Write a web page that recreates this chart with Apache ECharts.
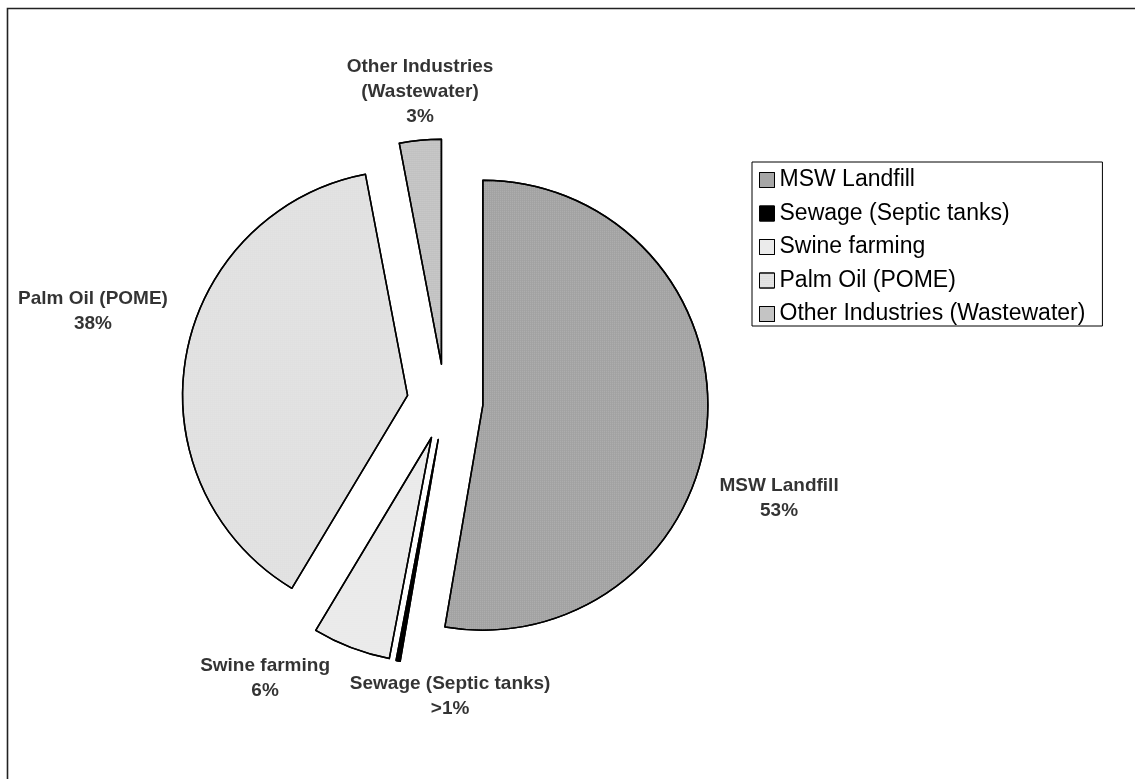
<!DOCTYPE html>
<html>
<head>
<meta charset="utf-8">
<title>Methane sources</title>
<script src="https://cdn.jsdelivr.net/npm/echarts@6/dist/echarts.min.js"></script>
<style>
  html, body { margin: 0; padding: 0; background: #fff; }
  #chart { width: 1135px; height: 779px; }
</style>
</head>
<body>
<div id="chart"></div>
<script>
// Source categories (legend order, clockwise from 12 o'clock)
const categories = [
  'MSW Landfill',
  'Sewage (Septic tanks)',
  'Swine farming',
  'Palm Oil (POME)',
  'Other Industries (Wastewater)'
];
// Share of each source, percent
const shares = [52.7, 0.3, 5.6, 38.4, 3.0];
// Slice label first lines (the long one wraps)
const labelNames = [
  'MSW Landfill',
  'Sewage (Septic tanks)',
  'Swine farming',
  'Palm Oil (POME)',
  'Other Industries\n(Wastewater)'
];

// Fill tones per slice, with a fine dot texture over each
const fills = ['#a2a2a2', '#000000', '#eeeeee', '#dfdfdf', '#c1c1c1'];
const dots = ['rgba(255,255,255,0.18)', 'rgba(0,0,0,0)', 'rgba(0,0,0,0.06)', 'rgba(255,255,255,0.35)', 'rgba(255,255,255,0.22)'];

// Pie geometry
const CX = 445, CY = 402, R = 225, EXPLODE = 38;
// Where each slice label sits: [distance from pie centre (px), clockwise angle from top (deg)]
const labelSpots = [[347.5, 106.0], [294, 179.0], [329.5, 213.1], [363.6, 284.5], [311, 355.4]];

const FONT = '"Liberation Sans", Arial, sans-serif';

const pctText = (i) => {
  const total = shares.reduce((a, b) => a + b, 0);
  const p = shares[i] / total * 100;
  return p < 1 ? '>1%' : Math.round(p) + '%';
};

const chart = echarts.init(document.getElementById('chart'), null, { renderer: 'canvas' });

const option = {
  animation: false,
  backgroundColor: '#ffffff',
  graphic: [{
    type: 'rect',
    shape: { x: 7.5, y: 8.5, width: 1200, height: 900 },
    style: { fill: 'none', stroke: '#222', lineWidth: 1.6 },
    silent: true
  }],
  // hidden polar frame sharing the pie centre, 1 radius unit = 1px; carries the slice labels
  polar: { center: [CX, CY], radius: 400 },
  angleAxis: { type: 'value', min: 0, max: 360, startAngle: 90, clockwise: true, show: false },
  radiusAxis: { type: 'value', min: 0, max: 400, show: false },
  legend: {
    orient: 'vertical',
    left: 752,
    top: 162,
    padding: [6, 17, 0, 7],
    itemGap: 9.5,
    itemWidth: 15,
    itemHeight: 15,
    icon: 'rect',
    selectedMode: false,
    borderColor: '#000',
    borderWidth: 1,
    itemStyle: { borderColor: '#000', borderWidth: 1 },
    textStyle: { fontFamily: FONT, fontSize: 23, color: '#000', lineHeight: 24 },
    data: categories
  },
  series: [{
    type: 'pie',
    center: [CX, CY],
    radius: R,
    startAngle: 90,
    clockwise: true,
    selectedMode: 'multiple',
    selectedOffset: EXPLODE,
    avoidLabelOverlap: false,
    emphasis: { disabled: true },
    itemStyle: { borderColor: '#000', borderWidth: 1.5 },
    label: { show: false },
    labelLine: { show: false },
    data: categories.map((name, i) => ({
      name,
      value: shares[i],
      selected: true,
      itemStyle: {
        color: fills[i],
        decal: {
          symbol: 'rect',
          symbolSize: 1,
          dashArrayX: [1, 1],
          dashArrayY: [1, 1],
          color: dots[i]
        }
      }
    }))
  }, {
    type: 'scatter',
    coordinateSystem: 'polar',
    silent: true,
    symbolSize: 0,
    label: {
      show: true,
      position: 'inside',
      fontFamily: FONT,
      fontSize: 19,
      fontWeight: 'bold',
      color: '#000',
      lineHeight: 25,
      align: 'center',
      verticalAlign: 'middle',
      formatter: (p) => labelNames[p.dataIndex] + '\n' + pctText(p.dataIndex)
    },
    data: labelSpots
  }]
};

chart.setOption(option);
</script>
</body>
</html>
